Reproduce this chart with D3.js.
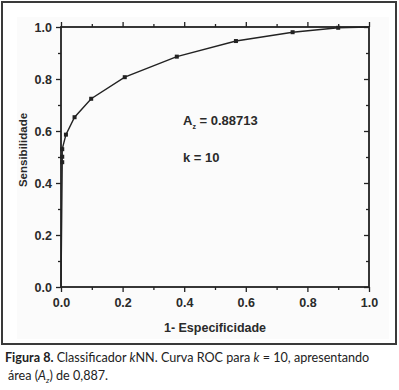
<!DOCTYPE html>
<html><head><meta charset="utf-8">
<script src="https://cdn.jsdelivr.net/npm/d3@7"></script>
<style>body{margin:0;background:#fff}svg{display:block}</style>
</head><body>
<script>
// Data
const fpr = [0, 0.004, 0.004, 0.004, 0.016, 0.044, 0.098, 0.207, 0.376, 0.568, 0.752, 0.900, 1.0];
const tpr = [0, 0.480, 0.501, 0.530, 0.586, 0.653, 0.724, 0.807, 0.886, 0.946, 0.980, 0.997, 1.0];
const majorTicks = [0, 0.2, 0.4, 0.6, 0.8, 1.0];
const minorTicks = [0.1, 0.3, 0.5, 0.7, 0.9];
const xTitle = "1- Especificidade";
const yTitle = "Sensibilidade";
const areaLabel = "0.88713";
const kLabel = "k = 10";

(function () {
const W = 399, H = 390;
const svg = d3.select("body").append("svg").attr("width", W).attr("height", H);

// outer frame
svg.append("rect").attr("x", 2).attr("y", 2).attr("width", 394).attr("height", 342)
  .attr("fill", "#fff").attr("stroke", "#3a3a3a").attr("stroke-width", 2);
svg.append("rect").attr("x", 17).attr("y", 17).attr("width", 372).attr("height", 322)
  .attr("fill", "#fbfbfb");

const x = d3.scaleLinear().domain([0, 1]).range([61, 369]);
const y = d3.scaleLinear().domain([0, 1]).range([287, 27]);
const ink = "#222";
const fam = "'Liberation Sans', Arial, sans-serif";

const g = svg.append("g");
g.append("rect").attr("x", x(0)).attr("y", y(1)).attr("width", x(1) - x(0)).attr("height", y(0) - y(1))
  .attr("fill", "none").attr("stroke", ink).attr("stroke-width", 1.8);

const fmt = d3.format(".1f");
g.append("g").attr("transform", `translate(0,${y(0)})`)
  .call(d3.axisBottom(x).tickValues(majorTicks).tickFormat(fmt).tickSize(5).tickPadding(6));
g.append("g").attr("transform", `translate(0,${y(0)})`)
  .call(d3.axisBottom(x).tickValues(minorTicks).tickFormat("").tickSize(3));
g.append("g").attr("transform", `translate(${x(0)},0)`)
  .call(d3.axisLeft(y).tickValues(majorTicks).tickFormat(fmt).tickSize(5).tickPadding(4));
g.append("g").attr("transform", `translate(${x(0)},0)`)
  .call(d3.axisLeft(y).tickValues(minorTicks).tickFormat("").tickSize(3));
g.append("g").attr("transform", `translate(0,${y(1)})`)
  .call(d3.axisTop(x).tickValues(majorTicks).tickFormat("").tickSize(5));
g.append("g").attr("transform", `translate(0,${y(1)})`)
  .call(d3.axisTop(x).tickValues(minorTicks).tickFormat("").tickSize(3));
g.append("g").attr("transform", `translate(${x(1)},0)`)
  .call(d3.axisLeft(y).tickValues(majorTicks).tickFormat("").tickSize(5));
g.append("g").attr("transform", `translate(${x(1)},0)`)
  .call(d3.axisLeft(y).tickValues(minorTicks).tickFormat("").tickSize(3));

g.selectAll(".domain").remove();
g.selectAll(".tick line").attr("stroke", ink).attr("stroke-width", 1.3);
g.selectAll(".tick text").attr("fill", "#2a2a2a").attr("font-family", fam)
  .attr("font-weight", "bold").attr("font-size", 12.5);

const pts = fpr.map((v, i) => [v, tpr[i]]);
g.append("path").datum(pts)
  .attr("d", d3.line().x(d => x(d[0])).y(d => y(d[1])))
  .attr("fill", "none").attr("stroke", ink).attr("stroke-width", 1.4);
g.selectAll(".mk").data(pts.slice(1, -1)).join("rect").attr("class", "mk")
  .attr("x", d => x(d[0]) - 2).attr("y", d => y(d[1]) - 2)
  .attr("width", 4).attr("height", 4).attr("fill", ink);

svg.append("text").attr("x", 215).attr("y", 332).attr("text-anchor", "middle")
  .attr("font-family", fam).attr("font-weight", "bold").attr("font-size", 12.5).attr("fill", "#2a2a2a")
  .text(xTitle);
svg.append("text").attr("transform", "translate(27,150) rotate(-90)").attr("text-anchor", "middle")
  .attr("font-family", fam).attr("font-weight", "bold").attr("font-size", 11.5).attr("fill", "#2a2a2a")
  .text(yTitle);

const a = svg.append("text").attr("x", 183).attr("y", 125)
  .attr("font-family", fam).attr("font-weight", "bold").attr("font-size", 13).attr("fill", "#2a2a2a");
a.append("tspan").text("A");
a.append("tspan").attr("dy", 4).attr("font-size", 7).text("z");
a.append("tspan").attr("dy", -4).text(" = " + areaLabel);
svg.append("text").attr("x", 183).attr("y", 162)
  .attr("font-family", fam).attr("font-weight", "bold").attr("font-size", 13).attr("fill", "#2a2a2a")
  .text(kLabel);

const cfam = "Lato, 'Open Sans', sans-serif";
const c1 = svg.append("text").attr("x", 5).attr("y", 362).attr("font-family", cfam)
  .attr("font-size", 12.6).attr("fill", "#222");
c1.append("tspan").attr("font-weight", "bold").text("Figura 8.");
c1.append("tspan").text(" Classificador ");
c1.append("tspan").attr("font-style", "italic").text("k");
c1.append("tspan").text("NN. Curva ROC para ");
c1.append("tspan").attr("font-style", "italic").text("k");
c1.append("tspan").text(" = 10, apresentando");
const c2 = svg.append("text").attr("x", 8).attr("y", 380).attr("font-family", cfam)
  .attr("font-size", 12.6).attr("fill", "#222");
c2.append("tspan").text("área (");
c2.append("tspan").attr("font-style", "italic").text("A");
c2.append("tspan").attr("dy", 3).attr("font-size", 8).attr("font-style", "italic").text("z");
c2.append("tspan").attr("dy", -3).text(") de 0,887.");
})();
</script>
</body></html>
